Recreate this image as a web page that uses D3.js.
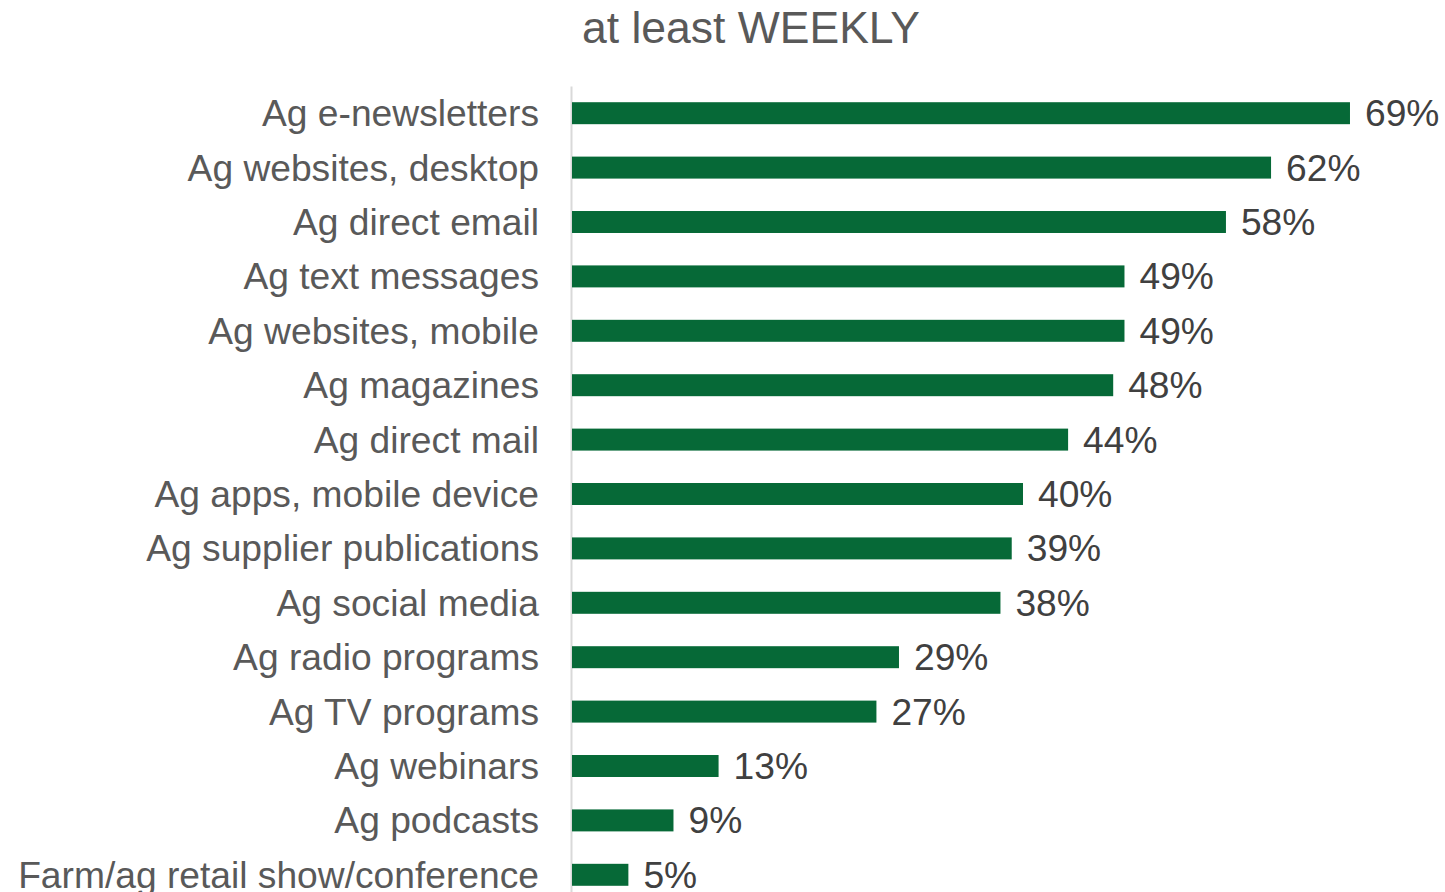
<!DOCTYPE html>
<html>
<head>
<meta charset="utf-8">
<script src="https://cdn.jsdelivr.net/npm/d3@7"></script>
<style>
  html, body { margin: 0; padding: 0; background: #fff; }
  svg { display: block; }
</style>
</head>
<body>
<svg id="chart" width="1445" height="892"></svg>
<script>
// Share of respondents using each ag information source at least weekly
const categories = [
  "Ag e-newsletters",
  "Ag websites, desktop",
  "Ag direct email",
  "Ag text messages",
  "Ag websites, mobile",
  "Ag magazines",
  "Ag direct mail",
  "Ag apps, mobile device",
  "Ag supplier publications",
  "Ag social media",
  "Ag radio programs",
  "Ag TV programs",
  "Ag webinars",
  "Ag podcasts",
  "Farm/ag retail show/conference"
];
const values = [69, 62, 58, 49, 49, 48, 44, 40, 39, 38, 29, 27, 13, 9, 5];
const title = "at least WEEKLY";

const svg = d3.select("#chart");
const font = "'Liberation Sans', Arial, sans-serif";

const x = d3.scaleLinear().domain([0, 70]).range([572, 572 + 70 * 11.275]);
const y = d3.scaleBand()
  .domain(categories)
  .range([86, 902])
  .paddingInner(0.596)
  .paddingOuter(0.298);

// Title
svg.append("text")
  .attr("x", 751)
  .attr("y", 43)
  .attr("text-anchor", "middle")
  .attr("font-family", font)
  .attr("font-size", 44.5)
  .attr("fill", "#595959")
  .text(title);

// Category axis
const yAxis = svg.append("g")
  .attr("transform", `translate(${x(0) - 1},0)`)
  .call(d3.axisLeft(y).tickSize(0).tickPadding(32));
yAxis.select(".domain").attr("stroke", "#d9d9d9").attr("stroke-width", 2);
yAxis.selectAll("text")
  .attr("font-family", font)
  .attr("font-size", 37.2)
  .attr("fill", "#595959")
  .attr("dy", "0.35em");

// Bars
svg.append("g").selectAll("rect")
  .data(values)
  .join("rect")
  .attr("x", x(0))
  .attr("y", (d, i) => y(categories[i]))
  .attr("width", d => x(d) - x(0))
  .attr("height", y.bandwidth())
  .attr("fill", "#066937");

// Value labels
svg.append("g").selectAll("text")
  .data(values)
  .join("text")
  .attr("x", d => x(d) + 15)
  .attr("y", (d, i) => y(categories[i]) + y.bandwidth() / 2)
  .attr("dy", "0.35em")
  .attr("font-family", font)
  .attr("font-size", 37.2)
  .attr("fill", "#404040")
  .text(d => d + "%");
</script>
</body>
</html>
